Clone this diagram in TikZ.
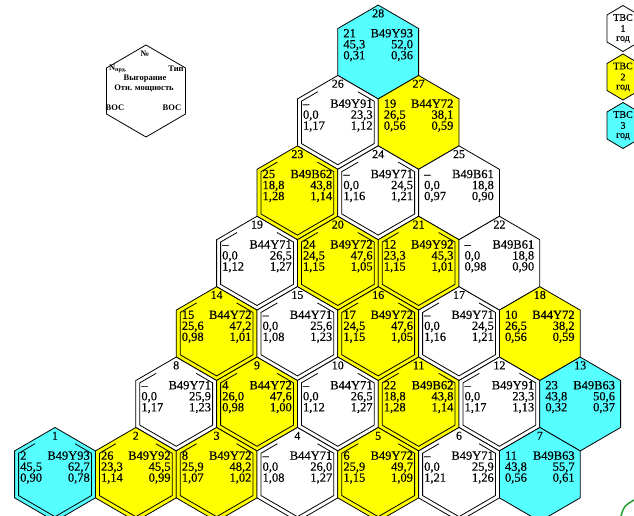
\documentclass[tikz,border=0pt]{standalone}
\usepackage{fontspec}
\setmainfont{Liberation Serif}
\newfontfamily\datafont{Liberation Serif}[FakeBold=0.35]
\usetikzlibrary{calc}
\definecolor{fill1}{HTML}{FFFFFF}
\definecolor{fill2}{HTML}{FFFF00}
\definecolor{fill3}{HTML}{55FFFF}
\definecolor{arcgreen}{HTML}{1FA02F}
\tikzset{
  fa edge/.style={draw=black, line width=0.8pt, line join=miter},
  fa num/.style={font=\datafont\fontsize{12}{12}\selectfont, inner sep=0pt, anchor=base},
  fa txt/.style={font=\datafont\fontsize{12.5}{12.5}\selectfont, inner sep=0pt},
  key txt/.style={font=\fontsize{8.5}{8.5}\selectfont\bfseries, inner sep=0pt},
  side txt/.style={font=\datafont\fontsize{10}{10}\selectfont, inner sep=0pt}
}
\newcommand\hexpath[2]{(0,#2) -- (-#1,#2/2) -- (-#1,-#2/2) -- (0,-#2) -- (#1,-#2/2) -- (#1,#2/2) -- cycle}

\begin{document}
\begin{tikzpicture}[x=1pt, y=1pt]
  \useasboundingbox (0,0) rectangle (634,-516);
  \clip (0,0) rectangle (634,-516);

  % key hexagon
  \coordinate (key) at (146,-91);
  \draw[fa edge, shift={(key)}] \hexpath{39.5}{46};
  \node[key txt] (kno) at (145,-54) {№};
  \node[key txt] (kload) at (118,-69) {N\textsubscript{прд.}};
  \node[key txt] (ktype) at (176,-69) {Тип};
  \node[key txt] (kburn) at (145,-79) {Выгорание};
  \node[key txt] (kpow) at (144,-88) {Отн. мощность};
  \node[key txt] (kboc) at (115,-108) {ВОС};
  \node[key txt] (keoc) at (172,-108) {ВОС};

  % core map
  \foreach \n/\k/\r/\yr/\d/\l/\t/\ba/\bb/\pa/\pb in {
    28/8/1/3/0/21/B49Y9/45{,}3/52{,}0/0{,}31/0{,}36,
    26/7/2/1/1/–/B49Y9/0{,}0/23{,}3/1{,}17/1{,}12,
    27/9/2/2/0/19/B44Y7/26{,}5/38{,}1/0{,}56/0{,}59,
    23/6/3/2/1/25/B49B6/18{,}8/43{,}8/1{,}28/1{,}14,
    24/8/3/1/1/–/B49Y7/0{,}0/24{,}5/1{,}16/1{,}21,
    25/10/3/1/0/–/B49B6/0{,}0/18{,}8/0{,}97/0{,}90,
    19/5/4/1/1/–/B44Y7/0{,}0/26{,}5/1{,}12/1{,}27,
    20/7/4/2/1/24/B49Y7/24{,}5/47{,}6/1{,}15/1{,}05,
    21/9/4/2/1/12/B49Y9/23{,}3/45{,}3/1{,}15/1{,}01,
    22/11/4/1/0/–/B49B6/0{,}0/18{,}8/0{,}98/0{,}90,
    14/4/5/2/1/15/B44Y7/25{,}6/47{,}2/0{,}98/1{,}01,
    15/6/5/1/1/–/B44Y7/0{,}0/25{,}6/1{,}08/1{,}23,
    16/8/5/2/1/17/B49Y7/24{,}5/47{,}6/1{,}15/1{,}05,
    17/10/5/1/1/–/B49Y7/0{,}0/24{,}5/1{,}16/1{,}21,
    18/12/5/2/0/10/B44Y7/26{,}5/38{,}2/0{,}56/0{,}59,
    8/3/6/1/1/–/B49Y7/0{,}0/25{,}9/1{,}17/1{,}23,
    9/5/6/2/1/4/B44Y7/26{,}0/47{,}6/0{,}98/1{,}00,
    10/7/6/1/1/–/B44Y7/0{,}0/26{,}5/1{,}12/1{,}27,
    11/9/6/2/1/22/B49B6/18{,}8/43{,}8/1{,}28/1{,}14,
    12/11/6/1/1/–/B49Y9/0{,}0/23{,}3/1{,}17/1{,}13,
    13/13/6/3/0/23/B49B6/43{,}8/50{,}6/0{,}32/0{,}37,
    1/0/7/3/1/2/B49Y9/45{,}5/62{,}7/0{,}90/0{,}78,
    2/2/7/2/1/26/B49Y9/23{,}3/45{,}5/1{,}14/0{,}99,
    3/4/7/2/1/8/B49Y7/25{,}9/48{,}2/1{,}07/1{,}02,
    4/6/7/1/1/–/B44Y7/0{,}0/26{,}0/1{,}08/1{,}27,
    5/8/7/2/1/6/B49Y7/25{,}9/49{,}7/1{,}15/1{,}09,
    6/10/7/1/1/–/B49Y7/0{,}0/25{,}9/1{,}21/1{,}26,
    7/12/7/3/0/11/B49B6/43{,}8/55{,}7/0{,}56/0{,}61}{
    \coordinate (h\n) at ({55+40.4*\k},{-52-70.4*(\r-1)});
    \begin{scope}[shift={(h\n)}]
      \draw[fa edge, fill=fill\yr] \hexpath{40.4}{46.93};
      \ifnum\d=1
        \draw[fa edge] ($(-36.4,21.15)!0.45!(0,42.3)$) -- (-36.4,21.15) -- (-36.4,-21.15)
          -- (0,-42.3) -- (36.4,-21.15) -- (36.4,21.15) -- ($(36.4,21.15)!0.45!(0,42.3)$);
      \fi
      \node[fa num] (n\n) at (0,34.7) {\n};
      \node[fa txt, anchor=base west] (l\n) at (-35,14.7) {\l};
      \node[fa txt, anchor=base east] (t\n) at (35,14.7) {\t{\fontspec{Liberation Serif}[FakeBold=1.2]\yr}};
      \node[fa txt, anchor=base west] (ba\n) at (-35,3.7) {\ba};
      \node[fa txt, anchor=base east] (bb\n) at (35,3.7) {\bb};
      \node[fa txt, anchor=base west] (pa\n) at (-35,-7.3) {\pa};
      \node[fa txt, anchor=base east] (pb\n) at (35,-7.3) {\pb};
    \end{scope}
  }

  % legend at the right edge
  \foreach \yr/\cy in {1/28.5, 2/77, 3/125.5}{
    \coordinate (lg\yr) at (623,-\cy);
    \draw[fa edge, fill=fill\yr] (lg\yr) ++(0,23) -- ++(-16,-9.5) -- ++(0,-27) -- ++(16,-9.5)
      -- ++(16,9.5) -- ++(0,27) -- cycle;
    \node[side txt] (lga\yr) at ($(lg\yr)+(0,11)$) {ТВС};
    \node[side txt] (lgb\yr) at (lg\yr) {\yr};
    \node[side txt] (lgc\yr) at ($(lg\yr)+(0,-11)$) {год};
  }

  \draw[arcgreen, line width=1.5pt] (621,-516) .. controls (624,-506) .. (634,-500);
\end{tikzpicture}
\end{document}
